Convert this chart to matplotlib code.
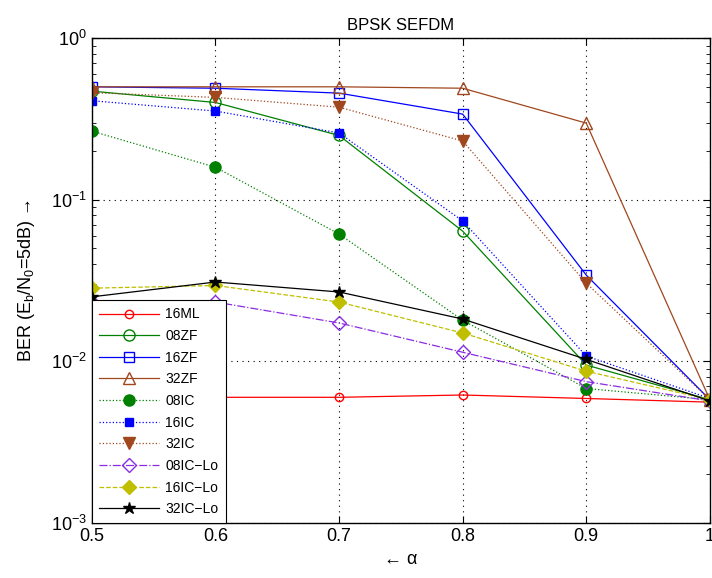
import numpy as np
import matplotlib.pyplot as plt

plt.rcParams['font.family'] = ['Liberation Sans', 'DejaVu Sans']

alpha = [0.5, 0.6, 0.7, 0.8, 0.9, 1.0]

# BER values
ber_16ML = [5.5e-3, 6.0e-3, 6.0e-3, 6.2e-3, 5.9e-3, 5.6e-3]
ber_08ZF = [0.47, 0.40, 0.25, 0.064, 0.0095, 5.8e-3]
ber_16ZF = [0.50, 0.49, 0.457, 0.339, 0.0342, 5.8e-3]
ber_32ZF = [0.50, 0.50, 0.50, 0.49, 0.298, 5.8e-3]
ber_08IC = [0.266, 0.159, 0.0614, 0.018, 0.0068, 5.8e-3]
ber_16IC = [0.41, 0.354, 0.259, 0.074, 0.0108, 5.9e-3]
ber_32IC = [0.46, 0.43, 0.374, 0.231, 0.0305, 5.8e-3]
ber_08ICLo = [0.0233, 0.0233, 0.0173, 0.0114, 0.0075, 5.7e-3]
ber_16ICLo = [0.0284, 0.0295, 0.0233, 0.015, 0.0087, 5.8e-3]
ber_32ICLo = [0.0251, 0.031, 0.0269, 0.0183, 0.0103, 5.7e-3]

brown = '#A0471E'
purple = '#8B2BE2'
olive = '#BFBF00'

fig = plt.figure(figsize=(7.12, 5.78), dpi=100)
ax = fig.add_axes([0.129, 0.095, 0.868, 0.839])

ax.semilogy(alpha, ber_16ML, '-o', color='red', mfc='none', ms=6, lw=0.9, label='16ML')
ax.semilogy(alpha, ber_08ZF, '-o', color='green', mfc='none', ms=8, lw=0.9, label='08ZF')
ax.semilogy(alpha, ber_16ZF, '-s', color='blue', mfc='none', ms=7, lw=0.9, label='16ZF')
ax.semilogy(alpha, ber_32ZF, '-^', color=brown, mfc='none', ms=8, lw=0.9, label='32ZF')
ax.semilogy(alpha, ber_08IC, ':o', color='green', ms=8, lw=0.9, label='08IC')
ax.semilogy(alpha, ber_16IC, ':s', color='blue', ms=6, lw=0.9, label='16IC')
ax.semilogy(alpha, ber_32IC, ':v', color=brown, ms=8, lw=0.9, label='32IC')
ax.semilogy(alpha, ber_08ICLo, '-.D', color=purple, mfc='none', ms=7, lw=0.9, label='08IC\u2212Lo')
ax.semilogy(alpha, ber_16ICLo, '--D', color=olive, ms=7, lw=0.9, label='16IC\u2212Lo')
ax.semilogy(alpha, ber_32ICLo, '-*', color='black', ms=9, lw=0.9, label='32IC\u2212Lo')

ax.set_xlim(0.5, 1.0)
ax.set_ylim(1e-3, 1)
ax.set_xticks([0.5, 0.6, 0.7, 0.8, 0.9, 1.0])
ax.set_xticklabels(['0.5', '0.6', '0.7', '0.8', '0.9', '1'])
ax.grid(True, which='major', linestyle=(0, (1, 4)), color='black', lw=0.8)
ax.tick_params(which='both', direction='in', top=True, right=True, labelsize=13)
ax.tick_params(which='major', length=5)
ax.tick_params(which='minor', length=3)
for s in ax.spines.values():
    s.set_linewidth(1.0)

ax.set_title('BPSK SEFDM', fontsize=12)
ax.set_xlabel('\u2190 \u03b1', fontsize=13)
ax.set_ylabel('BER (E$_\\mathregular{b}$/N$_\\mathregular{0}$=5dB) \u2192', fontsize=13, labelpad=10)

leg = ax.legend(loc='lower left', borderaxespad=0, fontsize=10, fancybox=False,
                edgecolor='black', framealpha=1, handlelength=4.3, labelspacing=0.55,
                handletextpad=0.5, borderpad=0.5)
leg.get_frame().set_linewidth(0.8)

fig.savefig('out.png', dpi=100)
